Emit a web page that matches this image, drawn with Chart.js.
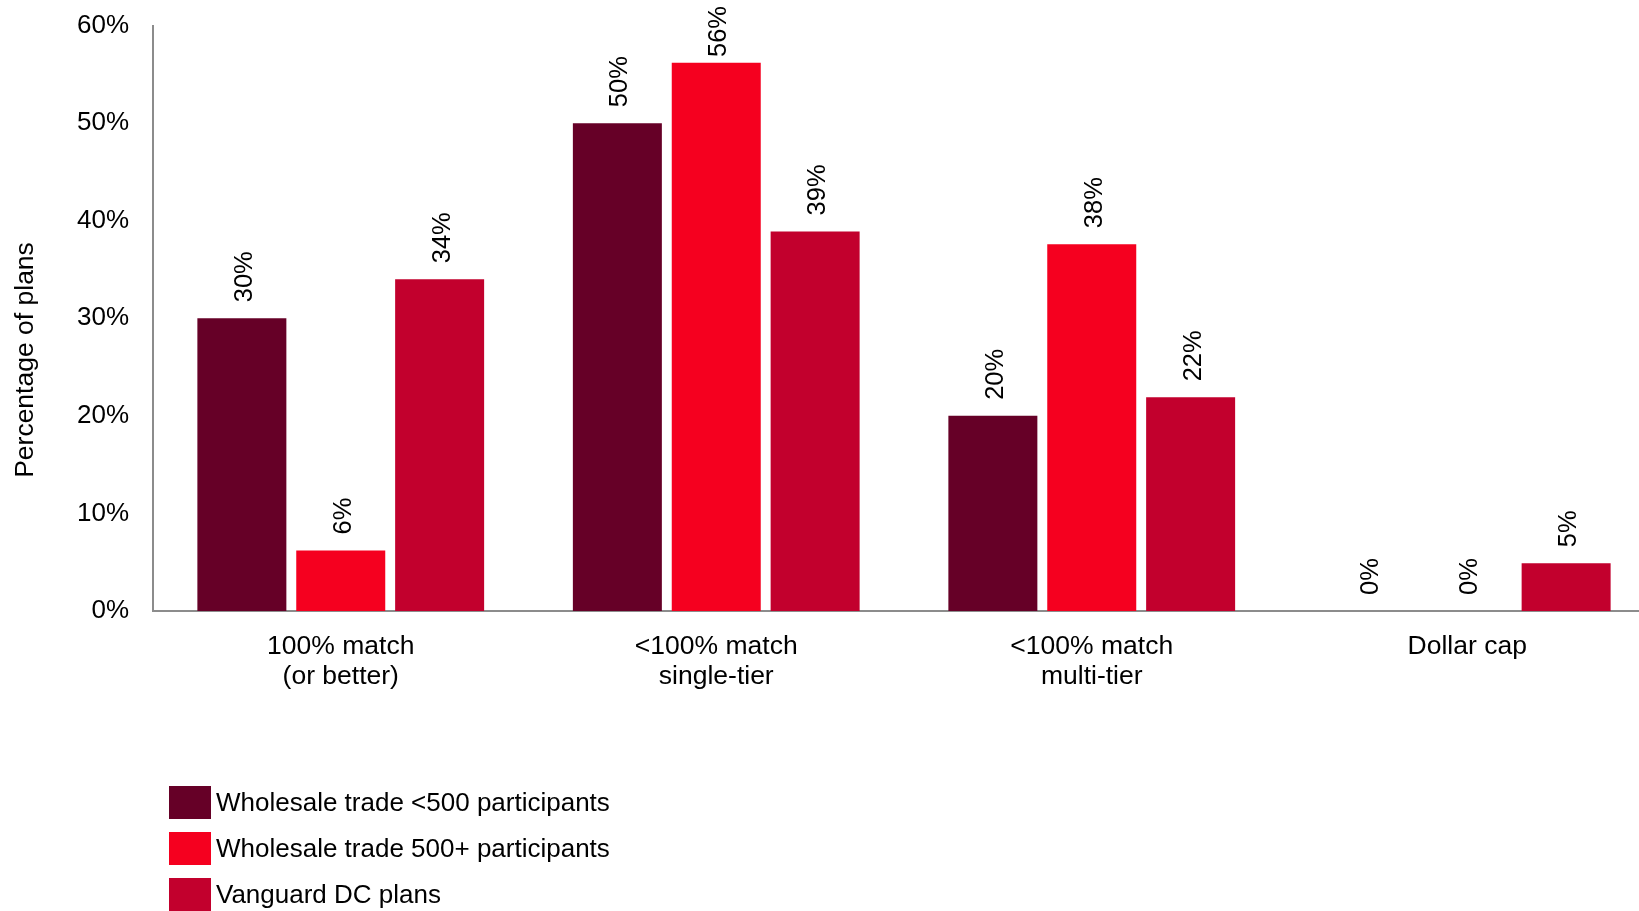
<!DOCTYPE html>
<html>
<head>
<meta charset="utf-8">
<script src="https://cdn.jsdelivr.net/npm/chart.js@4/dist/chart.umd.min.js"></script>
<style>
  html, body { margin: 0; padding: 0; background: #ffffff; overflow: hidden; }
  #wrap { position: relative; width: 1639px; height: 911px; overflow: hidden; }
  #chart { position: absolute; left: 0; top: -14px; }
  #legend { position: absolute; left: 169px; top: 779px; font-family: "Liberation Sans", Arial, sans-serif; font-size: 26px; color: #000; }
  .row { display: flex; align-items: center; height: 46px; }
  .box { width: 42px; height: 33px; margin-right: 5px; }
</style>
</head>
<body>
<div id="wrap">
  <canvas id="chart"></canvas>
  <div id="legend"></div>
</div>
<script>
// Employer match formula by plan group
const categories = [
  ["100% match", "(or better)"],
  ["<100% match", "single-tier"],
  ["<100% match", "multi-tier"],
  "Dollar cap"
];
const seriesNames = [
  "Wholesale trade <500 participants",
  "Wholesale trade 500+ participants",
  "Vanguard DC plans"
];
const wholesaleSmall = [30, 50, 20, 0];
const wholesaleLarge = [6.2, 56.2, 37.6, 0];
const vanguardPlans = [34, 38.9, 21.9, 4.9];
const yTicks = [0, 10, 20, 30, 40, 50, 60];
const colors = ["#660027", "#F5001F", "#C2002D"];

const FONT = '"Liberation Sans", Arial, sans-serif';

const canvas = document.getElementById('chart');
canvas.width = 1680;
canvas.height = 925;
canvas.style.width = '1680px';
canvas.style.height = '925px';

// rotated value labels above each bar
const valueLabels = {
  id: 'valueLabels',
  afterDatasetsDraw(chart) {
    const ctx = chart.ctx;
    ctx.save();
    ctx.font = '25.5px ' + FONT;
    ctx.fillStyle = '#000';
    ctx.textAlign = 'left';
    ctx.textBaseline = 'middle';
    chart.data.datasets.forEach((ds, i) => {
      const meta = chart.getDatasetMeta(i);
      meta.data.forEach((bar, j) => {
        const txt = Math.round(ds.data[j]) + '%';
        const w = ctx.measureText(txt).width;
        let start = bar.y - 16;
        if (start - w < 20) start = w + 20;
        ctx.save();
        ctx.translate(bar.x + 3, start);
        ctx.rotate(-Math.PI / 2);
        ctx.fillText(txt, 0, 0);
        ctx.restore();
      });
    });
    ctx.restore();
  }
};

// vertical axis caption
const yCaption = {
  id: 'yCaption',
  afterDraw(chart) {
    const ctx = chart.ctx;
    ctx.save();
    ctx.font = '26.5px ' + FONT;
    ctx.fillStyle = '#000';
    ctx.textAlign = 'center';
    ctx.textBaseline = 'middle';
    ctx.translate(26, 374);
    ctx.rotate(-Math.PI / 2);
    ctx.fillText('Percentage of plans', 0, 0);
    ctx.restore();
  }
};

const chart = new Chart(canvas, {
  type: 'bar',
  data: {
    labels: categories,
    datasets: [
      { label: seriesNames[0], data: wholesaleSmall, backgroundColor: colors[0] },
      { label: seriesNames[1], data: wholesaleLarge, backgroundColor: colors[1] },
      { label: seriesNames[2], data: vanguardPlans, backgroundColor: colors[2] }
    ]
  },
  options: {
    responsive: false,
    animation: false,
    devicePixelRatio: 1,
    layout: { padding: { top: 10, right: 25, bottom: 0, left: 0 } },
    datasets: { bar: { categoryPercentage: 0.79, barPercentage: 0.9 } },
    plugins: {
      legend: { display: false },
      tooltip: { enabled: false }
    },
    scales: {
      x: {
        grid: { display: false, drawTicks: false },
        border: { display: true, color: '#8c8c8c', width: 2 },
        ticks: { color: '#000', font: { family: FONT, size: 26.5, lineHeight: 1.15 }, padding: 20, maxRotation: 0 },
        afterFit(scale) { scale.height = 300; }
      },
      y: {
        min: 0,
        max: 60,
        afterBuildTicks(scale) { scale.ticks = yTicks.map(v => ({ value: v })); },
        grid: { display: false, drawTicks: false },
        border: { display: true, color: '#8c8c8c', width: 2 },
        ticks: { color: '#000', font: { family: FONT, size: 26 }, padding: 24, callback: v => v + '%' },
        afterFit(scale) { scale.width = 153; }
      }
    }
  },
  plugins: [valueLabels, yCaption]
});

// legend column below the plot
const legend = document.getElementById('legend');
seriesNames.forEach((name, i) => {
  const row = document.createElement('div');
  row.className = 'row';
  const box = document.createElement('div');
  box.className = 'box';
  box.style.background = colors[i];
  const label = document.createElement('span');
  label.textContent = name;
  row.appendChild(box);
  row.appendChild(label);
  legend.appendChild(row);
});
</script>
</body>
</html>
